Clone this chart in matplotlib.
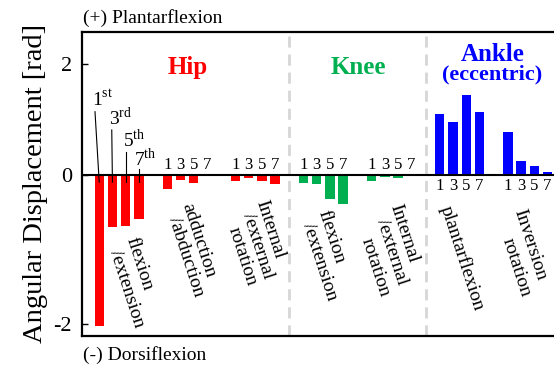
import numpy as np
import matplotlib.pyplot as plt

plt.rcParams["font.family"] = ["Liberation Serif", "DejaVu Serif"]
plt.rcParams["mathtext.fontset"] = "custom"
plt.rcParams["mathtext.rm"] = "Liberation Serif"

# mean angular displacement [rad] at the 1st, 3rd, 5th and 7th repetition
hip_flex = [-2.03, -0.70, -0.68, -0.59]
hip_add = [-0.195, -0.07, -0.107, -0.02]
hip_int = [-0.084, -0.05, -0.08, -0.13]
knee_flex = [-0.115, -0.125, -0.325, -0.39]
knee_int = [-0.09, -0.027, -0.05, -0.02]
ankle_pf = [1.10, 0.96, 1.44, 1.13]
ankle_inv = [0.77, 0.24, 0.15, 0.05]

groups = [hip_flex, hip_add, hip_int, knee_flex, knee_int, ankle_pf, ankle_inv]
RED, GREEN, BLUE = "#ff0000", "#00b050", "#0000ff"
group_colors = [RED, RED, RED, GREEN, GREEN, BLUE, BLUE]
rep_labels = ["1", "3", "5", "7"]
ordinals = [r"1$^{\rm st}$", r"3$^{\rm rd}$", r"5$^{\rm th}$", r"7$^{\rm th}$"]

step = 5.16   # distance between group starts (in bar widths)
width = 0.71

# negative side of the axis is stretched relative to the positive side
k_neg = 1.35
fwd = lambda y: np.where(np.asarray(y) >= 0, y, np.asarray(y) * k_neg)
inv = lambda y: np.where(np.asarray(y) >= 0, y, np.asarray(y) / k_neg)

fig = plt.figure(figsize=(5.54, 3.70), dpi=100)
ax = fig.add_axes([0.1475, 0.0919, 0.8525, 0.8224])
ax.set_yscale("function", functions=(fwd, inv))

for g, (vals, col) in enumerate(zip(groups, group_colors)):
    xs = g * step + np.arange(4)
    ax.bar(xs, vals, width=width, color=col, zorder=2)
    if g == 0:
        continue
    for x, lab in zip(xs, rep_labels):
        if g >= 5:
            ax.text(x, -0.04, lab, ha="center", va="top", fontsize=12)
        else:
            ax.text(x, 0.03, lab, ha="center", va="bottom", fontsize=12)

# ordinal callouts on the hip flexion bars
ord_text = [(-0.57, 1.26), (0.74, 0.90), (1.80, 0.50), (2.64, 0.16)]
ord_line = [(-0.32, 1.14), (0.95, 0.81), (2.0, 0.42), (3.0, 0.10)]
for i, (lab, (tx, ty), (lx, ly)) in enumerate(zip(ordinals, ord_text, ord_line)):
    ax.text(tx, ty, lab, ha="left", va="baseline", fontsize=14)
    ax.plot([lx, i], [ly, -0.1], color="black", lw=0.8, zorder=3)

ax.axhline(0, color="black", lw=1.5, zorder=3)
for xd in [(2 * step + 3 + 3 * step) / 2, (4 * step + 3 + 5 * step) / 2]:
    ax.axvline(xd, color="#d6d6d6", lw=2, ls=(0, (4, 2.5)), zorder=1)

# rotated motion labels, one line each
motion_lines = [
    ("flexion", 3.02, -1.19), ("/extension", 2.08, -1.52),
    ("adduction", 7.56, -0.88), ("/abduction", 6.55, -1.10),
    ("Internal", 12.94, -0.73), ("/external", 11.98, -0.95), ("rotation", 10.84, -1.10),
    ("flexion", 17.61, -0.83), ("/extension", 16.73, -1.17),
    ("Internal", 23.09, -0.78), ("/external", 22.16, -1.04), ("rotation", 20.89, -1.24),
    ("plantarflexion", 27.46, -1.12),
    ("Inversion", 32.64, -0.94), ("rotation", 31.63, -1.24),
]
for txt, x, y in motion_lines:
    ax.text(x, y, txt, rotation=-72, rotation_mode="anchor",
            ha="center", va="center", fontsize=14)

ax.text(6.73, 1.93, "Hip", color=RED, fontsize=18, fontweight="bold",
        ha="center", va="center")
ax.text(19.6, 1.93, "Knee", color=GREEN, fontsize=18, fontweight="bold",
        ha="center", va="center")
ax.text(29.8, 2.18, "Ankle", color=BLUE, fontsize=18, fontweight="bold",
        ha="center", va="center")
ax.text(29.76, 1.82, "(eccentric)", color=BLUE, fontsize=16, fontweight="bold",
        ha="center", va="center")

ax.set_xlim(-1.326, 34.45)
ax.set_ylim(-2.159, 2.586)
ax.set_yticks([-2, 0, 2])
ax.set_yticklabels(["-2", "0", "2"])
ax.set_xticks([])
ax.tick_params(axis="y", direction="in", length=4, width=1, labelsize=16, pad=7)
for side in ["top", "bottom", "left"]:
    ax.spines[side].set_linewidth(1.6)
ax.spines["right"].set_visible(False)

ax.set_ylabel("Angular Displacement [rad]", fontsize=20.5, labelpad=4)
fig.text(83 / 554, 1 - 18 / 370, "(+) Plantarflexion", fontsize=14,
         ha="left", va="center")
fig.text(83 / 554, 1 - 355 / 370, "(-) Dorsiflexion", fontsize=14,
         ha="left", va="center")

fig.savefig("out.png", dpi=100)
